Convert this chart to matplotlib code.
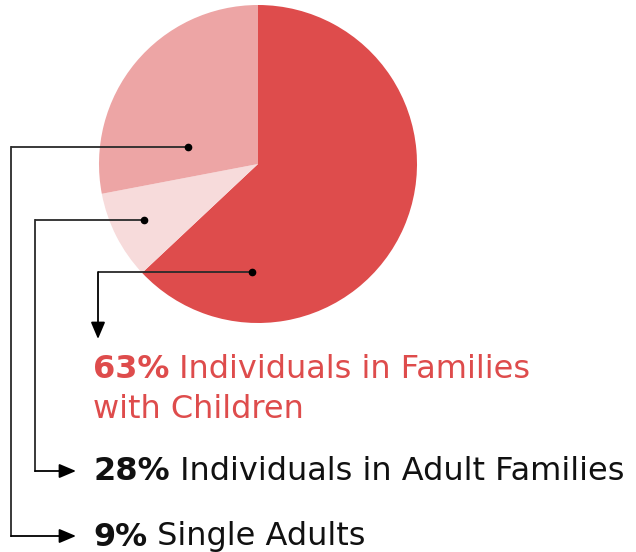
import matplotlib.pyplot as plt

# data
shares = [63, 9, 28]
slice_colors = ["#DE4C4C", "#F7DBDB", "#EDA5A5"]
pct_labels = ["63%", "28%", "9%"]
labels = ["Individuals in Families", "Individuals in Adult Families", "Single Adults"]
red = "#DE4C4C"
ink = "#111111"
line_col = "#2a2a2a"

plt.rcParams['font.family'] = ['DejaVu Sans']

fig = plt.figure(figsize=(6.36, 5.52), dpi=100)
ax = fig.add_axes([0, 0, 1, 1])

# y axis is flipped (pixel style), so counterclock from -90 reads clockwise from the top
ax.pie(shares, colors=slice_colors, startangle=-90, counterclock=True,
       center=(258, 164), radius=159, wedgeprops=dict(linewidth=0))
ax.set_xlim(0, 636)
ax.set_ylim(552, 0)
ax.set_aspect('equal')
ax.axis('off')


def leader(dot, corner_x, tip):
    # dot -> left -> down -> (optionally) right with an arrow head
    dx, dy = dot
    ax.plot([dx, corner_x], [dy, dy], color=line_col, lw=1.3, solid_capstyle='butt')
    ax.plot(dx, dy, 'o', color='black', ms=4.5)
    corner = (corner_x, tip[1]) if tip[0] != corner_x else (corner_x, dy)
    if tip[0] != corner_x:
        ax.plot([corner_x, corner_x], [dy, tip[1]], color=line_col, lw=1.3)
    ax.annotate('', xy=tip, xytext=corner,
                arrowprops=dict(arrowstyle='-|>,head_length=0.85,head_width=0.36',
                                color='black', lw=1.3, shrinkA=0, shrinkB=0,
                                mutation_scale=12))


leader((252, 272), 98, (98, 339))
leader((144, 220), 35, (76, 471))
leader((188, 147), 11, (76, 536))

fs = 23


def label(x, y, pct, txt, color):
    t = ax.text(x, y, pct, fontsize=fs, fontweight='bold', color=color, va='center', ha='left')
    ax.annotate(" " + txt, xy=(1, 0), xycoords=t, va='bottom', ha='left',
                fontsize=fs, color=color)


label(93, 370, pct_labels[0], labels[0], red)
ax.text(93, 409, "with Children", fontsize=fs, color=red, va='center', ha='left')
label(93, 472, pct_labels[1], labels[1], ink)
label(93, 537, pct_labels[2], labels[2], ink)

fig.savefig("out.png", dpi=100)
